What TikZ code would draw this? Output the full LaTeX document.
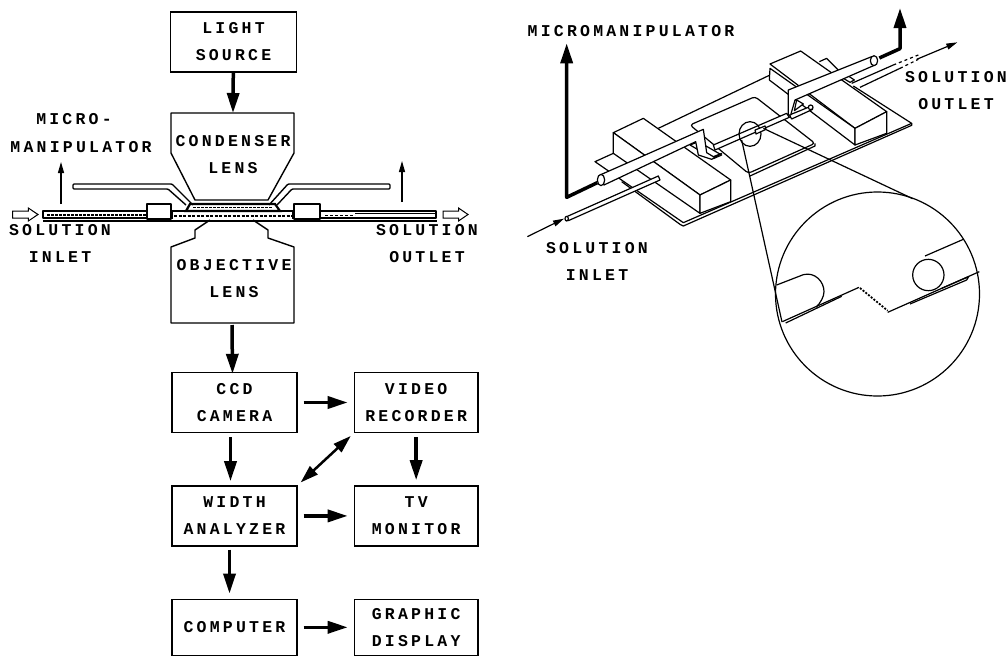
\documentclass[tikz,border=0pt]{standalone}
\usepackage{fontspec}
\usepackage{tikz}
\usetikzlibrary{arrows.meta, positioning}
\newfontfamily\platefont[LetterSpace=19.5]{Liberation Mono}
\tikzstyle{tag} = [inner sep=0pt, align=center, font=\platefont\bfseries\fontsize{16.5}{27}\selectfont]
\tikzstyle{block} = [tag, draw, rectangle, line width=1.4pt, minimum width=125pt, minimum height=60pt]
\tikzstyle{arrow} = [line width=3.5pt,-{Triangle[length=20pt,width=12pt]}]
\tikzstyle{botharrow} = [line width=2.5pt,{Triangle[length=18pt,width=11pt]}-{Triangle[length=18pt,width=11pt]}]
\tikzstyle{thinarrow} = [line width=1.2pt,-{Triangle[length=11pt,width=6pt]}]
\tikzstyle{outline} = [line width=1.4pt, line join=round]
\tikzstyle{solid part} = [outline, fill=white]
\begin{document}
\begin{tikzpicture}[x=1pt, y=-1pt]
    \useasboundingbox (0,0) rectangle (1006,656);
    % flow chart
    \node [block, minimum width=126pt] (light) at (233.5,42) {LIGHT\\SOURCE};
    \node [block] (ccd) at (234.5,402.5) {CCD\\CAMERA};
    \node [block, right=56pt of ccd, minimum width=123.5pt] (video) {VIDEO\\RECORDER};
    \node [block, below=52pt of ccd] (width) {WIDTH\\ANALYZER};
    \node [block, right=56pt of width, minimum width=123.5pt] (tv) {TV\\MONITOR};
    \node [block, below=52pt of width, minimum height=56pt] (computer) {COMPUTER};
    \node [block, right=56pt of computer, minimum height=56pt, minimum width=123.5pt] (graphic) {GRAPHIC\\DISPLAY};
    % lenses
    \draw [solid part] (171,113) -- (294,113) -- (294,153) -- (268,200) -- (195,200) -- (171,153) -- cycle;
    \draw [solid part] (210,220) -- (195,230) -- (195,238) -- (171,247) -- (171,323) -- (294,323) -- (294,247) -- (268,238) -- (268,230) -- (253,220);
    \node [tag] (condenser) at (233,155) {CONDENSER\\LENS};
    \node [tag] (objective) at (234,279) {OBJECTIVE\\LENS};
    \coordinate (condtop) at (233,113);
    \coordinate (objbottom) at (232,325);
    % stage seen from the side
    \draw [line width=1.7pt] (43,221) -- (437,221);
    \draw [outline] (43,211) rectangle (147,218);
    \draw [outline] (320,211) rectangle (436,218);
    \draw [line width=2pt, dash pattern=on 2.5pt off 1.5pt] (47,214.5) -- (146,214.5);
    \draw [line width=1pt, dash pattern=on 3pt off 2pt] (325,215) -- (355,215);
    \draw [line width=0.8pt] (355,213.5) -- (436,213.5);
    \draw [outline] (172,219) -- (172,211) -- (188,211);
    \draw [outline] (278,211) -- (293,211) -- (293,219);
    \draw [line width=2.5pt, dash pattern=on 3pt off 1.5pt] (174,216) -- (292,216);
    \draw [line width=2.2pt] (190,204) -- (275,204) -- (280,211) -- (186,211) -- cycle;
    \draw [line width=1.8pt, dash pattern=on 2.5pt off 1.5pt] (193,207.5) -- (272,207.5);
    \draw [solid part] (147,204) rectangle (171,219);
    \draw [solid part] (294,204) rectangle (320,219);
    \draw [outline, rounded corners=1pt] (186,205) -- (168,189) -- (73,189) -- (73,184) -- (172,184) -- (193,205);
    \draw [outline, rounded corners=1pt] (269,205) -- (288,184) -- (390,184) -- (390,189) -- (292,189) -- (277,205);
    \draw [line width=1pt] (12.7,211) -- (28.3,211) -- (28.3,208) -- (38,214.5) -- (28.3,221) -- (28.3,218) -- (12.7,218) -- cycle;
    \draw [line width=1pt] (443,211) -- (458.5,211) -- (458.5,208) -- (468,214.5) -- (458.5,221) -- (458.5,218) -- (443,218) -- cycle;
    \coordinate (tubeleft) at (61,204);
    \coordinate (tubeleftup) at (61,162);
    \coordinate (tuberight) at (402,202);
    \coordinate (tuberightup) at (402,161);
    \node [tag] (micro) at (74,119) {MICRO-};
    \node [tag] (manipleft) at (81,147) {MANIPULATOR};
    \node [tag] (inletleft) at (60,243.5) {SOLUTION\\INLET};
    \node [tag] (outletleft) at (427,243.5) {SOLUTION\\OUTLET};
    % connectors
    \draw [arrow] (light) -- (condtop);
    \draw [arrow] (objbottom) -- ([xshift=-2pt,yshift=-2pt]ccd.north);
    \draw [arrow, shorten <=6pt, shorten >=6pt] (ccd) -- (video);
    \draw [arrow, shorten <=6pt, shorten >=6pt] (width) -- (tv);
    \draw [arrow, shorten <=6pt, shorten >=6pt] (computer) -- (graphic);
    \draw [arrow, shorten <=4pt, shorten >=4pt] ([xshift=-4pt]ccd.south) -- ([xshift=-4pt]width.north);
    \draw [arrow, shorten <=3pt, shorten >=5pt] ([xshift=-5pt]width.south) -- ([xshift=-5pt]computer.north);
    \draw [arrow, shorten <=4pt, shorten >=5pt] (video) -- (tv);
    \draw [botharrow, shorten <=4pt, shorten >=4pt] (video.south west) -- (width.north east);
    \draw [thinarrow] (tubeleft) -- (tubeleftup);
    \draw [thinarrow] (tuberight) -- (tuberightup);
    % perspective view of the chamber
    \begin{scope}[shift={(520,0)}, scale=1/3, line width=1.2pt, line join=round]
        \draw (415,385) -- (750,225);
        \draw (898,185) -- (920,175) -- (955,210);
        \draw (1000,258) -- (1175,370) -- (490,668) -- (225,485) -- (280,460);
        \draw (305,545) -- (480,673) -- (490,678) -- (1175,376) -- (1175,370);
        % slide
        \draw [fill=white, rounded corners=3pt] (510,375) -- (705,290) -- (885,430) -- (685,520) -- cycle;
        \draw (690,528) -- (885,438) -- (885,430);
        % blocks
        \draw [fill=white] (280,398) -- (370,355) -- (632,540) -- (540,585) -- cycle;
        \draw [fill=white] (280,398) -- (280,460) -- (540,640) -- (540,585) -- cycle;
        \draw [fill=white] (540,585) -- (632,540) -- (632,605) -- (540,640) -- cycle;
        \draw [fill=white] (750,192) -- (842,153) -- (1100,335) -- (1005,385) -- cycle;
        \draw [fill=white] (750,205) -- (748,240) -- (1005,435) -- (1005,385) -- cycle;
        \draw [fill=white] (1005,385) -- (1100,335) -- (1100,400) -- (1005,435) -- cycle;
        % inner capillaries
        \draw [fill=white] (580,435) -- (800,340) -- (808,352) -- (585,450) -- cycle;
        \draw [fill=white] (808,345) -- (875,318) -- (878,328) -- (815,357) -- cycle;
        \draw [fill=white] (872,322) circle (7);
        \draw [fill=white] (510,435) -- (535,425) -- (605,465) -- (580,476) -- cycle;
        % magnified spot
        \draw (690,402) ellipse (33 and 37);
        \draw [fill=white] (705,390) -- (735,378) -- (738,388) -- (708,402) -- cycle;
        % inlet and outlet capillaries
        \draw [fill=white] (140,650) -- (415,528) -- (420,540) -- (145,662) -- cycle;
        \draw [fill=white] (140,656) ellipse (5 and 7);
        \draw (995,250) -- (1120,195);
        \draw (1020,262) -- (1140,205);
        \draw [dashed] (1120,195) -- (1195,165);
        \draw [dashed] (1140,205) -- (1195,178);
        \draw [fill=white] (970,235) -- (985,228) -- (1003,240) -- (990,247) -- cycle;
        % holder tubes
        \draw [fill=white] (240,525) -- (550,388) -- (560,458) -- (580,470) -- (605,460) -- (575,478) -- (535,465) -- (527,425) -- (252,555) -- cycle;
        \draw [fill=white] (243,540) ellipse (11 and 17);
        \draw [fill=white] (1055,170) -- (805,270) -- (805,345) -- (812,345) -- (825,300) -- (1065,195) -- cycle;
        \draw [fill=white] (1062,182) ellipse (11 and 15);
        \draw [fill=white] (830,300) -- (850,312) -- (823,332) -- cycle;
        % pointers to the enlarged view
        \coordinate (spotleft) at (665,420);
        \coordinate (spotright) at (730,385);
        \coordinate (zoomleft) at (786,966);
        \coordinate (zoomright) at (1178,596);
        \draw (spotleft) -- (zoomleft);
        \draw (spotright) -- (zoomright);
        % arrows along the capillaries
        \coordinate (flowinstart) at (22,710);
        \coordinate (flowinend) at (132,656);
        \coordinate (flowoutstart) at (1190,178);
        \coordinate (flowoutend) at (1312,127);
        \coordinate (handleft) at (232,548);
        \coordinate (handleftup) at (140,130);
        \coordinate (handright) at (1078,174);
        \coordinate (handrightup) at (1140,24);
        \draw [thinarrow] (flowinstart) -- (flowinend);
        \draw [thinarrow] (flowoutstart) -- (flowoutend);
        \draw [arrow] (handleft) -- (140,592) -- (handleftup);
        \draw [arrow] (handright) -- (1140,146) -- (handrightup);
    \end{scope}
    % enlarged view
    \begin{scope}[shift={(740,180)}, scale=1/3, line width=1.2pt, line join=round]
        \node [circle, draw, line width=1.2pt, minimum size=204pt, inner sep=0pt] (lens) at (412.5,342) {};
        \draw (110,315) -- (190,284) .. controls (225,275) and (252,305) .. (252,335) .. controls (252,350) and (242,368) .. (228,382);
        \draw (127,425) -- (357,322);
        \draw [line width=1.8pt, dash pattern=on 2pt off 1.5pt] (360,324) -- (443,392);
        \draw (443,397) -- (718,275);
        \draw (137,429) -- (305,349);
        \draw (510,372) -- (680,300) -- (686,290) -- (605,325);
        \draw (555,228) -- (670,178);
        \draw (565,285) circle (47);
    \end{scope}
    \node [tag] (manipright) at (631,31) {MICROMANIPULATOR};
    \node [tag] (outletright) at (956,90.5) {SOLUTION\\OUTLET};
    \node [tag] (inletright) at (597,261.5) {SOLUTION\\INLET};
\end{tikzpicture}
\end{document}
